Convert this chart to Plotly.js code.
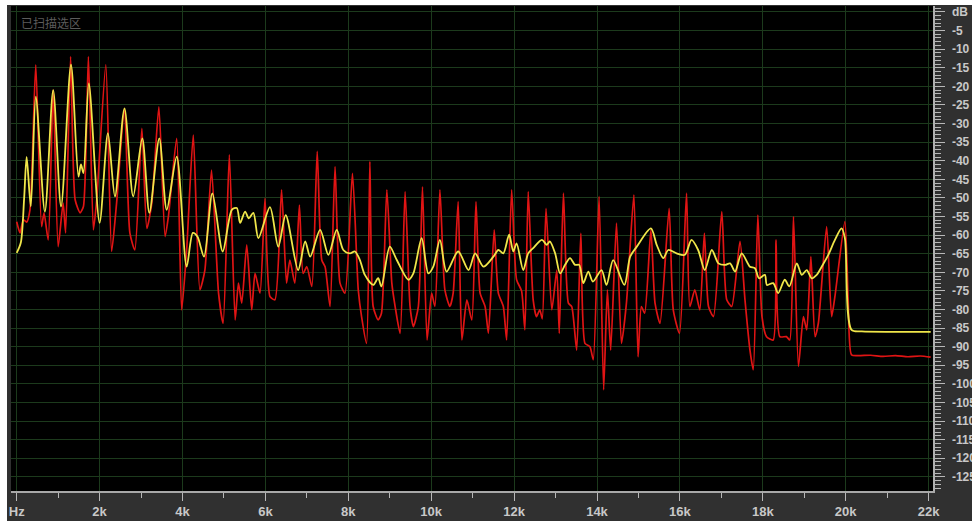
<!DOCTYPE html>
<html>
<head>
<meta charset="utf-8">
<script src="https://cdn.plot.ly/plotly-3.0.1.min.js"></script>
<style>
html,body{margin:0;padding:0;background:#ffffff;width:972px;height:521px;overflow:hidden;}
#chart{position:absolute;left:7px;top:5px;width:965px;height:516px;}
</style>
</head>
<body>
<div id="chart"></div>
<script>
// Frequency in kHz, level in dB
var redFreq = [0.0,0.08,0.16,0.24,0.32,0.46,0.6,0.66,0.76,0.88,1.0,1.12,1.18,1.3,1.41,1.53,1.61,1.73,1.85,1.93,2.15,2.29,2.41,2.6,2.73,2.85,3.02,3.14,3.26,3.43,3.58,3.66,3.86,3.98,4.1,4.26,4.42,4.54,4.7,4.87,4.98,5.13,5.27,5.35,5.43,5.55,5.67,5.75,5.87,5.99,6.11,6.23,6.39,6.51,6.59,6.71,6.82,6.91,7.0,7.12,7.25,7.36,7.44,7.56,7.68,7.8,7.92,8.1,8.24,8.32,8.44,8.52,8.6,8.72,8.8,8.93,9.05,9.13,9.25,9.37,9.49,9.57,9.69,9.79,9.9,10.01,10.09,10.21,10.33,10.45,10.53,10.65,10.74,10.86,10.98,11.08,11.18,11.3,11.38,11.52,11.62,11.74,11.82,11.94,12.06,12.18,12.26,12.34,12.46,12.54,12.62,12.68,12.77,12.91,13.03,13.09,13.19,13.31,13.39,13.51,13.61,13.71,13.83,13.91,14.05,14.16,14.25,14.33,14.47,14.59,14.71,14.89,14.99,15.07,15.15,15.3,15.4,15.52,15.74,15.84,15.99,16.16,16.24,16.36,16.48,16.59,16.69,16.81,17.01,17.13,17.25,17.45,17.57,17.69,17.77,17.88,17.98,18.09,18.25,18.32,18.41,18.57,18.65,18.74,18.86,18.98,19.06,19.16,19.26,19.34,19.54,19.66,19.74,19.98,20.06,20.14,20.3,20.6,20.9,21.2,21.5,21.8,22.05];
var redDb = [-56.4,-59.4,-55.9,-56.5,-53.2,-14.2,-57.7,-54,-61.3,-21,-63.1,-51.4,-59.4,-12,-50.5,-54,-52.3,-12,-58.6,-50.5,-14.2,-64.4,-51.4,-25.9,-59.4,-64,-31.3,-58.2,-51.4,-25.5,-60.4,-55,-34,-80.1,-64,-33.1,-74.7,-69.4,-42.5,-75.6,-83.7,-38.4,-82.8,-72.9,-78.3,-62.6,-80.1,-70.3,-75.6,-50.1,-76.5,-77.4,-47.8,-72.9,-66.7,-72.9,-51.9,-70.3,-68.5,-73.8,-37.5,-66.7,-68.5,-79.2,-41.6,-72.9,-75.6,-43.4,-74.7,-81.9,-89.1,-40.2,-79.2,-82.8,-81,-47.8,-72.9,-79.2,-86.4,-48.3,-79.2,-84.6,-79.2,-47,-88.2,-75.6,-79.2,-47.8,-74.7,-79.2,-75.6,-51,-88.2,-77.4,-82.8,-51,-75.6,-79.2,-86.4,-58.6,-75.6,-79.2,-88.2,-47.8,-72,-75,-85.5,-48.3,-77.4,-81.9,-80.1,-82.5,-52.8,-80.1,-69.4,-86.4,-48.7,-78.3,-79.2,-90.9,-59.5,-89.1,-90,-93.5,-49.6,-101.6,-74.7,-90.9,-56.8,-89.1,-78.3,-49.2,-92.7,-79.2,-81,-58.6,-78.3,-83.7,-52.8,-80.1,-86.4,-48.7,-79.2,-74.7,-80.1,-59.5,-79.2,-81.9,-53.7,-77.4,-79.2,-61.7,-77.4,-90.9,-96.2,-54.6,-81.9,-87.3,-88.2,-61.3,-87.3,-87.3,-88.2,-55,-95.3,-81.9,-85.5,-65.8,-87.3,-83.7,-57.7,-81.9,-76.5,-56.4,-77.4,-92.2,-92.4,-92.3,-92.6,-92.4,-92.7,-92.5,-92.8];

var yellowFreq = [0.0,0.1,0.18,0.24,0.34,0.46,0.68,0.88,1.07,1.31,1.49,1.55,1.61,1.74,2.0,2.2,2.37,2.6,2.81,3.03,3.2,3.44,3.62,3.86,4.1,4.25,4.36,4.52,4.72,4.97,5.19,5.31,5.39,5.51,5.6,5.71,5.83,6.11,6.31,6.49,6.79,6.96,7.08,7.32,7.52,7.72,7.88,8.04,8.16,8.28,8.4,8.6,8.72,8.8,9.0,9.17,9.45,9.57,9.77,9.93,10.05,10.21,10.37,10.65,10.9,11.06,11.26,11.5,11.62,11.74,11.88,11.98,12.06,12.22,12.34,12.46,12.67,12.79,12.86,12.99,13.11,13.23,13.35,13.47,13.57,13.67,13.79,13.9,14.11,14.23,14.39,14.66,14.8,14.96,15.3,15.44,15.6,15.72,15.92,16.12,16.28,16.44,16.6,16.77,16.93,17.09,17.21,17.33,17.49,17.69,17.81,17.91,18.05,18.1,18.25,18.37,18.53,18.64,18.82,18.94,19.06,19.18,19.3,19.42,19.58,19.74,19.9,19.98,20.14,20.39,21.2,22.05];
var yellowDb = [-64.8,-62,-50,-39,-52.3,-22.8,-53.7,-21,-52.3,-14.2,-44.3,-41,-43.3,-19.2,-56.7,-32.6,-49.6,-25.9,-49.6,-34,-54,-34,-53.2,-38.9,-68.5,-59.4,-60.4,-65.8,-48.8,-64.4,-53.2,-52.7,-56.7,-53.7,-55.5,-54,-60.8,-52.5,-63.1,-54.6,-69.4,-61.7,-65.8,-58.6,-65.3,-58.6,-64,-64.9,-64.4,-66.7,-70.7,-73.4,-71.6,-73.8,-63.1,-66.7,-72,-70.3,-60.8,-70.3,-68.5,-61.3,-69.8,-64.4,-69.4,-64.9,-68.5,-65.8,-64,-64.9,-59.9,-64.4,-62.2,-69.4,-64.9,-63.5,-61.3,-62.6,-61.7,-64.9,-70.3,-68,-66.2,-68,-68,-72.9,-69.8,-72.5,-69.4,-73.4,-66.7,-73.4,-65.8,-63.1,-58.2,-62.6,-66.2,-64,-64.9,-65.3,-61.3,-64,-69.4,-64,-67.6,-68,-67.6,-69.8,-64.9,-68.5,-68.9,-71.6,-70.7,-73.4,-72.9,-75.6,-72,-73.8,-67.6,-70.7,-69.4,-71.6,-70.7,-68.5,-65.3,-61.3,-58.2,-60.8,-85.5,-85.9,-86,-86];

var xTickVals = [0,2,4,6,8,10,12,14,16,18,20,22];
var xTickText = ["Hz","2k","4k","6k","8k","10k","12k","14k","16k","18k","20k","22k"];
var yTickVals = [0,-5,-10,-15,-20,-25,-30,-35,-40,-45,-50,-55,-60,-65,-70,-75,-80,-85,-90,-95,-100,-105,-110,-115,-120,-125];
var yTickText = ["dB","-5","-10","-15","-20","-25","-30","-35","-40","-45","-50","-55","-60","-65","-70","-75","-80","-85","-90","-95","-100","-105","-110","-115","-120","-125"];
var panelLabel = "已扫描选区";

var traces = [
  {x: redFreq, y: redDb, type: 'scatter', mode: 'lines',
   line: {color: '#e01414', width: 1.7, shape: 'spline', smoothing: 0.6},
   hoverinfo: 'skip', showlegend: false},
  {x: yellowFreq, y: yellowDb, type: 'scatter', mode: 'lines',
   line: {color: '#f0e64a', width: 1.8, shape: 'spline', smoothing: 0.8},
   hoverinfo: 'skip', showlegend: false}
];

var layout = {
  width: 965, height: 516,
  margin: {l: 4, r: 39, t: 1, b: 30, pad: 0},
  paper_bgcolor: '#303030',
  plot_bgcolor: '#000000',
  font: {family: 'Liberation Sans, Arial, sans-serif', color: '#c8c8c8', size: 13},
  xaxis: {
    range: [-0.1375, 22.106], fixedrange: true,
    tickmode: 'array', tickvals: xTickVals, ticktext: xTickText,
    ticks: 'outside', ticklen: 8, tickwidth: 1, tickcolor: '#b8b8b8',
    ticklabelstandoff: 0, ticklabeloverflow: 'allow',
    showgrid: true, gridcolor: '#1c3a1c', gridwidth: 1,
    zeroline: false,
    showline: true, linecolor: '#a8a8a8', linewidth: 1.5,
    minor: {tickmode: 'linear', tick0: 0, dtick: 1, ticklen: 5, tickcolor: '#b8b8b8', showgrid: false},
    tickfont: {size: 13, color: '#c8c8c8', weight: 'bold'}
  },
  yaxis: {
    range: [-128.8, 1.6], fixedrange: true, side: 'right',
    tickmode: 'array', tickvals: yTickVals, ticktext: yTickText,
    ticks: 'outside', ticklen: 10, tickwidth: 1, tickcolor: '#b8b8b8',
    ticklabelstandoff: 5, ticklabeloverflow: 'allow',
    showgrid: true, gridcolor: '#1c3a1c', gridwidth: 1,
    zeroline: false,
    showline: true, linecolor: '#b0b0b0', linewidth: 1.5,
    minor: {tickmode: 'linear', tick0: 0, dtick: 1, ticklen: 6, tickcolor: '#b8b8b8', showgrid: false},
    tickfont: {size: 12, color: '#c8c8c8', weight: 'bold'}
  },
  annotations: [{
    text: panelLabel, xref: 'paper', yref: 'paper', x: 0, y: 1,
    xanchor: 'left', yanchor: 'top', xshift: 8, yshift: -6, showarrow: false,
    font: {family: 'Noto Sans CJK SC, sans-serif', size: 12, color: '#5c5c5c'}
  }]
};

Plotly.newPlot('chart', traces, layout, {displayModeBar: false, staticPlot: true});
</script>
</body>
</html>
